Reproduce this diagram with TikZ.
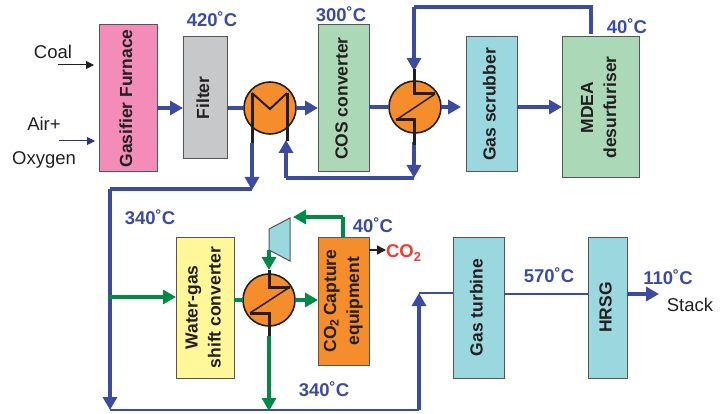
\documentclass[tikz,border=0pt]{standalone}
\usepackage{fontspec}
\setmainfont{Liberation Sans}
\usetikzlibrary{arrows.meta}
\definecolor{bl}{HTML}{3C4BA2}
\definecolor{gn}{HTML}{008A45}
\definecolor{ink}{HTML}{231F20}
\definecolor{edge}{HTML}{555555}
\definecolor{pinkb}{HTML}{F48CBA}
\definecolor{grayb}{HTML}{C7C8CA}
\definecolor{greenb}{HTML}{ABD9B7}
\definecolor{cyanb}{HTML}{9AD7DF}
\definecolor{yellowb}{HTML}{FFF799}
\definecolor{orangeb}{HTML}{F68D2C}
\definecolor{redt}{HTML}{EE3B33}
\newcommand{\vt}[1]{\rotatebox{90}{\begin{tabular}{@{}c@{}}#1\end{tabular}}}
\tikzset{
  x=1pt,y=-1pt,
  every node/.style={font=\fontsize{17.5}{20}\selectfont\bfseries,text=ink,inner sep=0pt,outer sep=0pt},
  box/.style={draw=edge,line width=1pt,anchor=north west},
  hxc/.style={circle,draw=ink,line width=1.6pt,fill=orangeb,minimum size=52pt},
  temp/.style={font=\fontsize{18.5}{20}\selectfont\bfseries,text=bl},
  plain/.style={font=\fontsize{18.5}{20}\selectfont,text=ink},
  bline/.style={draw=bl,line width=3.2pt},
  gline/.style={draw=gn,line width=3.2pt},
  barrow/.style={bline,-{Triangle[length=13pt,width=14pt]}},
  garrow/.style={gline,-{Triangle[length=13pt,width=14pt]}},
  stub/.style={draw=ink,line width=3pt,line join=miter},
  thin/.style={draw=ink,line width=1.5pt}
}
\begin{document}
\begin{tikzpicture}
\useasboundingbox (0,0) rectangle (725,414);
% boxes
\node[box,fill=pinkb,minimum width=58pt,minimum height=147pt] (gas) at (99,25) {\vt{Gasifier Furnace}};
\node[box,fill=grayb,minimum width=44pt,minimum height=122pt] (filter) at (183,37) {\vt{Filter}};
\node[box,fill=greenb,minimum width=51pt,minimum height=147pt] (cos) at (318,25) {\vt{COS converter}};
\node[box,fill=cyanb,minimum width=51pt,minimum height=135pt] (scrub) at (466,37) {\vt{Gas scrubber}};
\node[box,fill=greenb,minimum width=77pt,minimum height=141pt] (mdea) at (562,37) {\vt{MDEA\\[3pt]desurfuriser}};
\node[box,fill=yellowb,minimum width=58pt,minimum height=141pt] (wgs) at (176,237) {\vt{Water-gas\\[3pt]shift converter}};
\node[box,fill=orangeb,minimum width=51pt,minimum height=128pt] (capt) at (318,237) {\vt{CO\textsubscript{2}\,Capture\\[3pt]equipment}};
\node[box,fill=cyanb,minimum width=51pt,minimum height=141pt] (gt) at (453,237) {\vt{Gas turbine}};
\node[box,fill=cyanb,minimum width=39pt,minimum height=141pt] (hrsg) at (588,237) {\vt{HRSG}};
% heat exchangers
\node[hxc] (hx1) at (270,108) {};
\node[hxc] (hx2) at (415,107) {};
\node[hxc] (hx3) at (269,300) {};
% compressor
\coordinate (c1) at (269,229);
\coordinate (c2) at (290,218);
\coordinate (c3) at (290,261);
\coordinate (c4) at (269,250);
\draw[draw=edge,line width=1pt,fill=cyanb] (c1) -- (c2) -- (c3) -- (c4) -- cycle;
% free ends and bends
\coordinate (coalS) at (58,65);
\coordinate (airS) at (59,141);
\coordinate (c5) at (110,189);
\coordinate (c6) at (110,410);
\coordinate (c7) at (419,410);
\coordinate (c8) at (419,293);
\coordinate (c9) at (591,7);
\coordinate (c10) at (414,7);
\coordinate (c11) at (414,178);
\coordinate (c12) at (286,178);
\coordinate (c13) at (343,217);
\coordinate (c14) at (108,297);
\coordinate (c15) at (659,294);
\coordinate (c16) at (386,250);
% thin inputs
\draw[draw=ink,line width=1pt,-{Triangle[length=8pt,width=8pt]}] (coalS) -- (94,65);
\draw[draw=bl!70!black,line width=1pt,-{Triangle[length=8pt,width=8pt]}] (airS) -- (95,141);
% blue lines
\draw[barrow] (gas.east |- hx1) -- (filter.west |- hx1);
\draw[bline] (filter.east |- hx1) -- (hx1.west);
\draw[barrow] (hx1.east) -- (cos.west |- hx1);
\draw[bline] (cos.east |- hx2) -- (hx2.west);
\draw[barrow] (hx2.east) -- (461,107);
\draw[barrow] (scrub.east |- hx2) -- (mdea.west |- hx2);
\draw[bline,line join=miter] (591,34) -- (c9) -- (c10);
\draw[barrow] (c10) -- (414,71);
\draw[barrow] (414,142) -- (c11);
\draw[bline,line join=miter] (c11) -- (c12);
\draw[barrow] (c12) -- (286,140);
\draw[barrow] (252,143) -- (252,190);
\draw[bline] (252,189) -- (c5);
\draw[barrow] (c5) -- (c6);
\draw[bline,line width=2.6pt,line join=miter] (c6) -- (c7);
\draw[barrow] (c7) -- (c8);
\draw[bline,line width=2.6pt] (c8) -- (gt.west |- c8);
\draw[bline,line width=2.6pt] (gt.east |- c15) -- (hrsg.west |- c15);
\draw[barrow] (hrsg.east |- c15) -- (c15);
% green lines
\draw[garrow] (c14) -- (wgs.west |- c14);
\draw[gline] (wgs.east |- hx3) -- (hx3.west);
\draw[garrow] (hx3.east) -- (capt.west |- hx3);
\draw[garrow] (269,336) -- (269,411);
\draw[gline,line join=miter] (343,237) -- (c13);
\draw[garrow] (c13) -- (293,217);
\draw[garrow] (c4) -- (269,270);
% black arrow
\draw[draw=ink,line width=1.4pt,-{Triangle[length=9pt,width=9pt]}] (capt.east |- c16) -- (c16);
% exchanger internals
\draw[stub] (252,143) -- (252,93);
\draw[stub] (287,93) -- (287,141);
\draw[draw=ink,line width=2pt,line join=miter] (252,93) -- (270,109) -- (287,93);
\draw[stub] (414,69) -- (414,94) -- (435,94);
\draw[stub] (396,120) -- (414,120) -- (414,145);
\draw[thin] (435,94) -- (396,120);
\draw[stub] (269,270) -- (269,287) -- (290,287);
\draw[stub] (250,313) -- (269,313) -- (269,336);
\draw[thin] (290,287) -- (250,313);
% labels
\node[temp] (t1) at (212,19) {420˚C};
\node[temp] (t2) at (341,14) {300˚C};
\node[temp] (t3) at (627,26) {40˚C};
\node[temp] (t4) at (150,217) {340˚C};
\node[temp] (t5) at (373,225) {40˚C};
\node[temp] (t6) at (324,389) {340˚C};
\node[temp] (t7) at (549,275) {570˚C};
\node[temp] (t8) at (668,277) {110˚C};
\node[temp,text=redt,anchor=west] (co2) at (386,253) {CO\textsubscript{2}};
\node[plain] (coal) at (53,52) {Coal};
\node[plain] (air) at (44,124) {Air+};
\node[plain] (oxy) at (44,160) {Oxygen};
\node[plain] (stack) at (690,305) {Stack};
\end{tikzpicture}
\end{document}
